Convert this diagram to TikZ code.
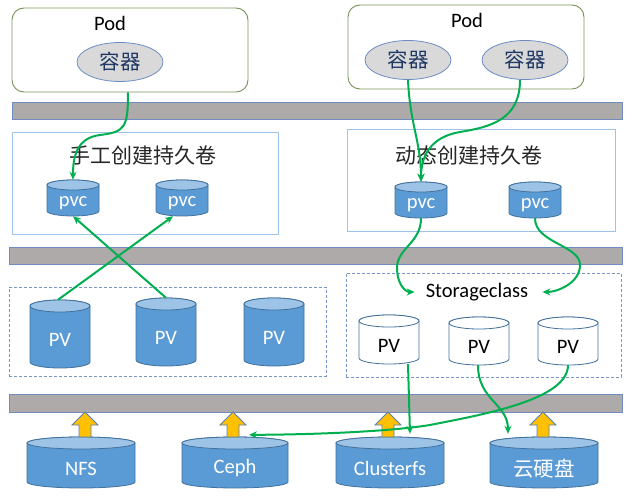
\documentclass[tikz,border=0pt]{standalone}
\usepackage{fontspec}
\setmainfont{Carlito}
\newfontfamily\cjk{Noto Sans CJK SC}
\usetikzlibrary{shapes.geometric,arrows.meta}
\definecolor{podline}{RGB}{118,146,84}
\definecolor{ellfill}{RGB}{217,217,217}
\definecolor{ellline}{RGB}{108,140,196}
\definecolor{elltext}{RGB}{31,56,100}
\definecolor{boxline}{RGB}{157,195,230}
\definecolor{dashline}{RGB}{120,150,200}
\definecolor{barfill}{RGB}{174,170,170}
\definecolor{barline}{RGB}{112,140,190}
\definecolor{cylbody}{RGB}{91,155,213}
\definecolor{cyltop}{RGB}{157,195,230}
\definecolor{cylline}{RGB}{65,113,156}
\definecolor{gline}{RGB}{0,176,80}
\definecolor{yarrow}{RGB}{255,192,0}
\definecolor{yline}{RGB}{90,127,181}
\tikzset{
  podbox/.style={draw=podline,line width=0.9pt,rounded corners=12pt,minimum width=236pt,minimum height=84pt,inner sep=0pt},
  ctr/.style={ellipse,draw=ellline,fill=ellfill,line width=0.8pt,minimum width=86pt,minimum height=39pt,inner sep=0pt,text=elltext,font=\cjk\fontsize{20.5}{22}\selectfont},
  lbox/.style={draw=boxline,line width=0.9pt,inner sep=0pt},
  dbox/.style={draw=dashline,line width=0.8pt,dash pattern=on 3pt off 2pt,inner sep=0pt},
  bar/.style={draw=barline,fill=barfill,line width=0.8pt},
  bbody/.style={draw=cylline,fill=cylbody,line width=0.8pt},
  btop/.style={draw=cylline,fill=cyltop,line width=0.8pt},
  btext/.style={text=white,inner sep=0pt,font=\fontsize{20.5}{22}\selectfont},
  wbody/.style={draw=cylline,fill=white,line width=0.8pt},
  wtop/.style={draw=cylline,fill=white,line width=0.8pt},
  wtext/.style={text=black,inner sep=0pt,font=\fontsize{20.5}{22}\selectfont},
  conn/.style={draw=gline,line width=2pt,-{Stealth[length=8pt,width=7pt]}},
  title/.style={inner sep=0pt,text={rgb,255:red,38;green,38;blue,38},font=\cjk\fontsize{21}{23}\selectfont},
  plain/.style={inner sep=0pt,font=\fontsize{20.5}{22}\selectfont},
  yarr/.style={draw=yline,fill=yarrow,line width=0.8pt,line join=miter}
}
% name, cx, top, bottom, halfwidth, ry, kind(b/w), text
\newcommand\mycyl[8]{%
  \path[#7body] ({#2-#5},{#3+#6}) -- ({#2-#5},{#4-#6})
     arc[start angle=180,end angle=360,x radius=#5pt,y radius=#6pt]
     -- ({#2+#5},{#3+#6})
     arc[start angle=0,end angle=180,x radius=#5pt,y radius=#6pt] -- cycle;
  \path[#7top] (#2,{#3+#6}) ellipse [x radius=#5pt,y radius=#6pt];
  \node[minimum width={2*#5pt},minimum height={(#4-#3)*1pt},inner sep=0pt] (#1) at (#2,{(#3+#4)/2}) {};
  \node[#7text] (#1-t) at (#2,{(#3+2*#6+#4)/2}) {#8};
}
\newcommand\yup[1]{%
  \path[yarr] ({#1-6},437) -- ({#1-6},425) -- ({#1-13},425) -- (#1,412) -- ({#1+13},425) -- ({#1+6},425) -- ({#1+6},437) -- cycle;
}
\begin{document}
\begin{tikzpicture}[x=1pt,y=-1pt]
\useasboundingbox (0,0) rectangle (635,500);
% pods
\node[podbox] (pod1) at (130,50) {};
\node[plain] (pod1-t) at (110,23) {Pod};
\node[ctr] (c1) at (120,62) {容器};
\node[podbox] (pod2) at (466,47) {};
\node[plain] (pod2-t) at (467,20) {Pod};
\node[ctr] (c2) at (408,60) {容器};
\node[ctr] (c3) at (525,60) {容器};
% bars
\path[bar] (12,102) rectangle (622,119);
\path[bar] (9,247) rectangle (622,264);
\path[bar] (9,394) rectangle (622,412);
% pvc boxes
\node[lbox,minimum width=266pt,minimum height=102pt] (boxL) at (145,183) {};
\node[title] (boxL-t) at (143,156) {手工创建持久卷};
\node[lbox,minimum width=268pt,minimum height=102pt] (boxR) at (481,180) {};
\node[title] (boxR-t) at (469,156) {动态创建持久卷};
\mycyl{pvcL1}{73}{180}{216}{26}{5}{b}{pvc}
\mycyl{pvcL2}{182}{180}{216}{26}{5}{b}{pvc}
\mycyl{pvcR1}{421}{182}{218}{26}{5}{b}{pvc}
\mycyl{pvcR2}{535}{182}{218}{26}{5}{b}{pvc}
% PV boxes
\node[dbox,minimum width=317pt,minimum height=89pt] (dL) at (167.5,331.5) {};
\node[dbox,minimum width=275pt,minimum height=104pt] (dR) at (483.5,325) {};
\node[plain] (sc) at (477,292) {Storageclass};
\mycyl{pvL1}{60}{300}{368}{30}{6}{b}{PV}
\mycyl{pvL2}{166}{298}{366}{30}{6}{b}{PV}
\mycyl{pvL3}{274}{298}{366}{30}{6}{b}{PV}
\mycyl{sPV1}{389}{315}{364}{30}{6}{w}{PV}
\mycyl{sPV2}{479}{317}{365}{30}{6}{w}{PV}
\mycyl{sPV3}{568}{317}{365}{30}{6}{w}{PV}
% storage
\mycyl{nfs}{81}{437}{488}{54}{6}{b}{NFS}
\mycyl{ceph}{235}{437}{488}{53}{6}{b}{Ceph}
\mycyl{clus}{390}{437}{488}{54}{6}{b}{Clusterfs}
\mycyl{yun}{544}{437}{488}{54}{6}{b}{\cjk 云硬盘}
% yellow arrows
\yup{85}
\yup{233}
\yup{388}
\yup{543}
% connectors
\draw[conn] ([xshift=-2pt]pod1.south) .. controls +(0,35) and +(25,-3) .. (100,135)
   .. controls +(-25,3) and +(0,-20) .. (pvcL1.north);
\draw[conn] (c2.south) .. controls +(2,45) and +(0,-40) .. (pvcR1.north);
\draw[conn] ([xshift=-5pt]c3.south) .. controls +(0,40) and +(30,-5) .. (460,132)
   .. controls +(-30,5) and +(0,-25) .. (pvcR1.north);
\draw[conn] ([xshift=-2pt]pvL1.north) -- ([xshift=-9pt]pvcL2.south);
\draw[conn] (pvL2.north) -- (pvcL1.south);
\draw[conn] (pvcR1.south) .. controls +(0,25) and +(0,-20) .. (397,268)
   .. controls +(0,15) and +(-10,0) .. ([xshift=-11pt]sc.west);
\draw[conn] (pvcR2.south) .. controls +(0,25) and +(0,-20) .. (580,265)
   .. controls +(0,18) and +(15,0) .. ([xshift=14pt]sc.east);
\draw[conn] ([xshift=19pt]sPV1.south) -- ([xshift=20pt,yshift=3pt]clus.north);
\draw[conn] ([xshift=-1pt]sPV2.south) .. controls +(0,35) and +(0,-30) .. ([xshift=-36pt,yshift=3pt]yun.north);
\draw[conn] (sPV3.south) .. controls +(0,35) and +(50,-10) .. (430,425)
   .. controls +(-50,8) and +(40,0) .. ([xshift=14pt,yshift=2pt]ceph.north);
\end{tikzpicture}
\end{document}
